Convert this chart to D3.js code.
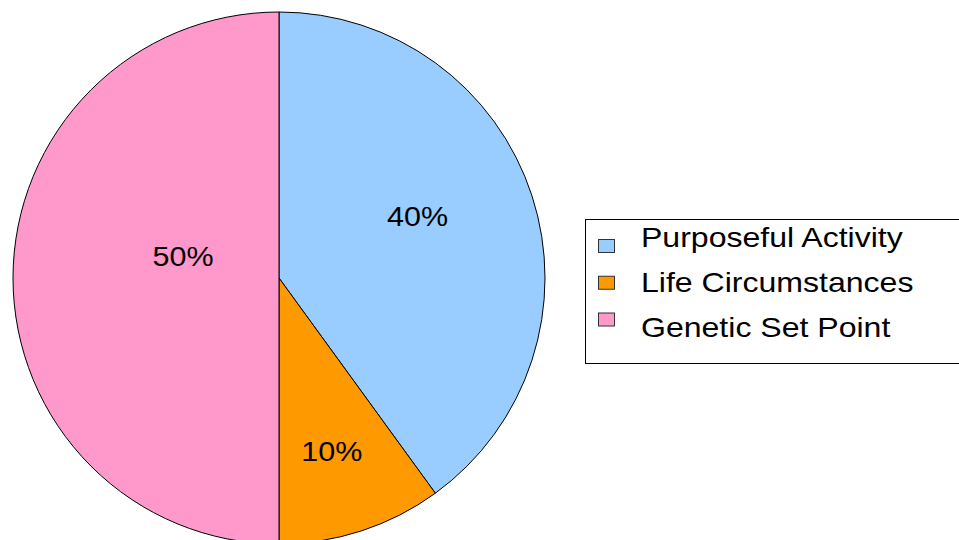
<!DOCTYPE html>
<html>
<head>
<meta charset="utf-8">
<script src="https://cdn.jsdelivr.net/npm/d3@7"></script>
<style>
  html, body { margin: 0; padding: 0; background: #ffffff; }
  svg { display: block; font-family: "Liberation Sans", Arial, sans-serif; }
</style>
</head>
<body>
<div id="pie-chart"></div>
<script>
// data
const categories = ["Purposeful Activity", "Life Circumstances", "Genetic Set Point"];
const values = [40, 10, 50];
const valueLabels = ["40%", "10%", "50%"];
const colors = ["#99ccff", "#ff9900", "#ff99cc"];

const width = 959, height = 540;
const cx = 279, cy = 278, radius = 266;

// label placement (fraction of radius, angle shift in degrees from slice middle)
const labelPlace = [
    { k: 0.57, shift: -6 },
    { k: 0.68, shift: 1 },
    { k: 0.37, shift: 13 }
];

const svg = d3.select("#pie-chart")
    .append("svg")
    .attr("width", width)
    .attr("height", height);

const pie = d3.pie()
    .sort(null)
    .value(d => d);

const arc = d3.arc()
    .innerRadius(0)
    .outerRadius(radius);

const arcs = pie(values);

const g = svg.append("g")
    .attr("transform", `translate(${cx},${cy})`);

g.selectAll("path")
    .data(arcs)
    .join("path")
    .attr("d", arc)
    .attr("fill", (d, i) => colors[i])
    .attr("stroke", "#000")
    .attr("stroke-width", 1)
    .attr("stroke-linejoin", "round");

// text in the original is a bit wider than Liberation Sans
g.selectAll("text.pct")
    .data(arcs)
    .join("text")
    .attr("class", "pct")
    .attr("transform", (d, i) => {
        const mid = (d.startAngle + d.endAngle) / 2 + labelPlace[i].shift * Math.PI / 180;
        const p = d3.pointRadial(mid, radius * labelPlace[i].k);
        return `translate(${p[0]},${p[1]}) scale(1.09,1)`;
    })
    .attr("text-anchor", "middle")
    .attr("dy", "0.36em")
    .style("font-size", "28px")
    .attr("fill", "#000")
    .text((d, i) => valueLabels[i]);

// legend
const legend = svg.append("g");

legend.append("rect")
    .attr("x", 585.5)
    .attr("y", 219.5)
    .attr("width", 400)
    .attr("height", 144)
    .attr("fill", "#fff")
    .attr("stroke", "#000")
    .attr("stroke-width", 1);

const ySwatch = d3.scalePoint()
    .domain(categories)
    .range([246, 319.5]);

const yText = d3.scalePoint()
    .domain(categories)
    .range([247, 337]);

legend.selectAll("rect.sw")
    .data(categories)
    .join("rect")
    .attr("class", "sw")
    .attr("x", 598.5)
    .attr("y", d => ySwatch(d) - 6.5)
    .attr("width", 16)
    .attr("height", 13)
    .attr("fill", (d, i) => colors[i])
    .attr("stroke", "#333")
    .attr("stroke-width", 1);

legend.selectAll("text.lg")
    .data(categories)
    .join("text")
    .attr("class", "lg")
    .attr("transform", d => `translate(641,${yText(d)}) scale(1.145,1)`)
    .style("font-size", "28px")
    .attr("fill", "#000")
    .text(d => d);
</script>
</body>
</html>
